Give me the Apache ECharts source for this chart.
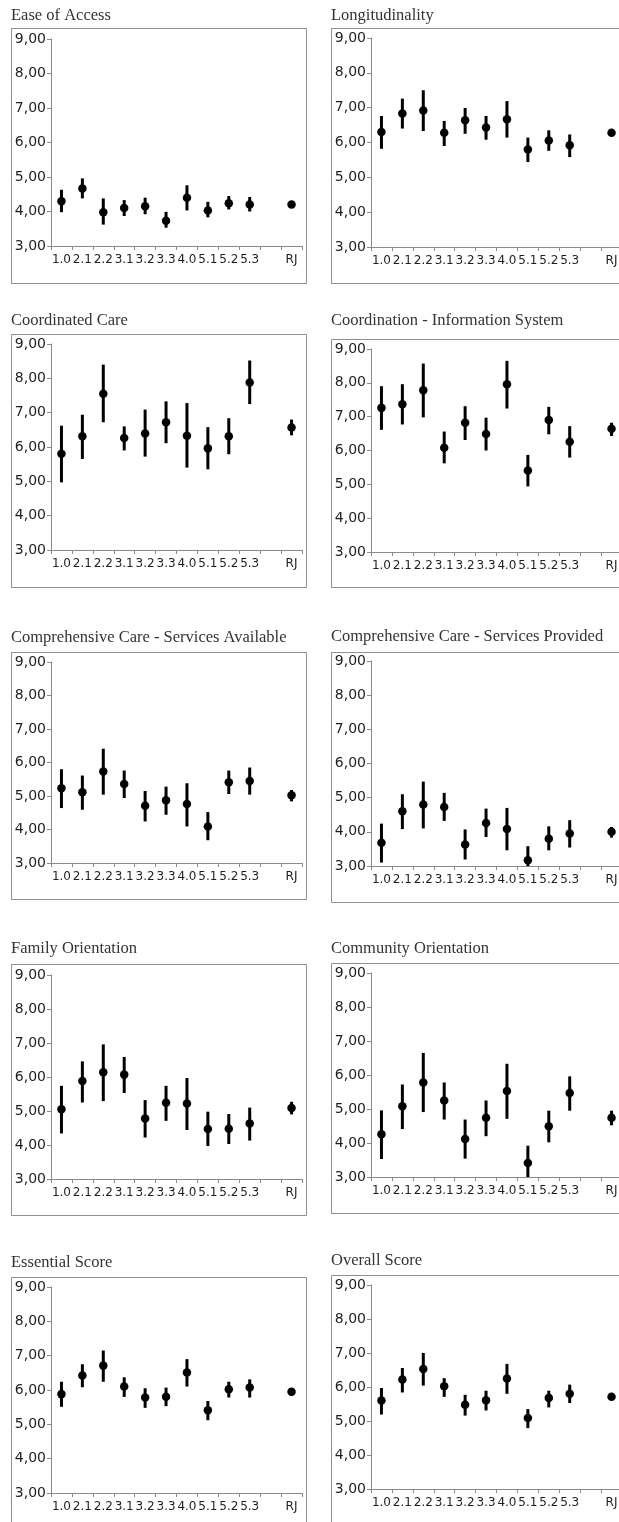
<!DOCTYPE html>
<html>
<head>
<meta charset="utf-8">
<script src="https://cdn.jsdelivr.net/npm/echarts@6/dist/echarts.min.js"></script>
<style>
html,body{margin:0;padding:0;background:#fff;}
#chart{width:619px;height:1522px;}
</style>
</head>
<body>
<div id="chart"></div>
<script>
// ---------- DATA ----------
const categories = ['1.0','2.1','2.2','3.1','3.2','3.3','4.0','5.1','5.2','5.3','','RJ'];
const yMin = 3, yMax = 9, yStep = 1;

const titles = [
  'Ease of Access', 'Longitudinality',
  'Coordinated Care', 'Coordination - Information System',
  'Comprehensive Care - Services Available', 'Comprehensive Care - Services Provided',
  'Family Orientation', 'Community Orientation',
  'Essential Score', 'Overall Score'
];

const easeMean = [4.30, 4.67, 3.98, 4.10, 4.15, 3.73, 4.40, 4.03, 4.24, 4.20, null, 4.20];
const easeLo   = [3.98, 4.38, 3.62, 3.87, 3.92, 3.53, 4.03, 3.83, 4.06, 4.00, null, 4.15];
const easeHi   = [4.63, 4.96, 4.38, 4.33, 4.40, 3.99, 4.76, 4.28, 4.45, 4.42, null, 4.25];

const longMean = [6.30, 6.83, 6.92, 6.28, 6.64, 6.43, 6.67, 5.80, 6.06, 5.92, null, 6.28];
const longLo   = [5.82, 6.40, 6.33, 5.90, 6.25, 6.08, 6.14, 5.44, 5.76, 5.58, null, 6.20];
const longHi   = [6.76, 7.26, 7.50, 6.62, 6.99, 6.76, 7.19, 6.14, 6.35, 6.23, null, 6.36];

const coordMean = [5.80, 6.31, 7.55, 6.26, 6.39, 6.72, 6.33, 5.96, 6.31, 7.88, null, 6.57];
const coordLo   = [4.97, 5.65, 6.72, 5.90, 5.72, 6.11, 5.40, 5.35, 5.79, 7.25, null, 6.34];
const coordHi   = [6.62, 6.94, 8.40, 6.60, 7.09, 7.33, 7.28, 6.58, 6.84, 8.52, null, 6.80];

const infoMean = [7.26, 7.37, 7.78, 6.08, 6.82, 6.49, 7.96, 5.41, 6.90, 6.26, null, 6.64];
const infoLo   = [6.61, 6.77, 6.98, 5.62, 6.31, 6.00, 7.24, 4.94, 6.48, 5.79, null, 6.43];
const infoHi   = [7.90, 7.96, 8.57, 6.56, 7.31, 6.97, 8.65, 5.87, 7.29, 6.72, null, 6.82];

const availMean = [5.23, 5.11, 5.73, 5.36, 4.71, 4.87, 4.76, 4.09, 5.41, 5.45, null, 5.02];
const availLo   = [4.64, 4.59, 5.04, 4.94, 4.24, 4.44, 4.09, 3.68, 5.06, 5.04, null, 4.84];
const availHi   = [5.80, 5.61, 6.41, 5.76, 5.15, 5.28, 5.38, 4.52, 5.76, 5.85, null, 5.18];

const provMean = [3.68, 4.60, 4.80, 4.73, 3.63, 4.26, 4.08, 3.17, 3.80, 3.95, null, 4.00];
const provLo   = [3.10, 4.08, 4.10, 4.32, 3.19, 3.85, 3.46, 2.78, 3.46, 3.54, null, 3.83];
const provHi   = [4.24, 5.10, 5.47, 5.14, 4.07, 4.68, 4.70, 3.58, 4.16, 4.34, null, 4.14];

const famMean = [5.05, 5.88, 6.14, 6.07, 4.78, 5.24, 5.22, 4.47, 4.48, 4.63, null, 5.09];
const famLo   = [4.34, 5.25, 5.29, 5.53, 4.22, 4.71, 4.44, 3.97, 4.03, 4.13, null, 4.90];
const famHi   = [5.74, 6.46, 6.96, 6.59, 5.32, 5.74, 5.97, 4.98, 4.91, 5.10, null, 5.27];

const commMean = [4.26, 5.08, 5.78, 5.25, 4.12, 4.74, 5.53, 3.41, 4.49, 5.47, null, 4.74];
const commLo   = [3.53, 4.41, 4.91, 4.69, 3.54, 4.20, 4.71, 2.90, 4.02, 4.95, null, 4.52];
const commHi   = [4.96, 5.72, 6.65, 5.78, 4.69, 5.25, 6.33, 3.92, 4.95, 5.96, null, 4.95];

const essMean = [5.88, 6.42, 6.71, 6.10, 5.78, 5.80, 6.51, 5.41, 6.02, 6.07, null, 5.95];
const essLo   = [5.51, 6.08, 6.24, 5.80, 5.48, 5.53, 6.10, 5.12, 5.78, 5.78, null, 5.90];
const essHi   = [6.24, 6.75, 7.15, 6.37, 6.05, 6.07, 6.90, 5.68, 6.24, 6.31, null, 6.00];

const allMean = [5.60, 6.22, 6.53, 6.02, 5.48, 5.61, 6.25, 5.09, 5.68, 5.80, null, 5.71];
const allLo   = [5.19, 5.84, 6.04, 5.71, 5.16, 5.31, 5.80, 4.79, 5.40, 5.53, null, 5.66];
const allHi   = [5.97, 6.56, 7.00, 6.26, 5.77, 5.89, 6.68, 5.35, 5.89, 6.07, null, 5.76];

const panelData = [
  [easeMean, easeLo, easeHi], [longMean, longLo, longHi],
  [coordMean, coordLo, coordHi], [infoMean, infoLo, infoHi],
  [availMean, availLo, availHi], [provMean, provLo, provHi],
  [famMean, famLo, famHi], [commMean, commLo, commHi],
  [essMean, essLo, essHi], [allMean, allLo, allHi]
];

// ---------- LAYOUT ----------
// [gridLeft, gridTop, gridHeight, boxLeft, boxTop, boxBottom, titleTop]
const layout = [
  [51, 39, 207, 11, 28, 283, 7],    [371, 38, 209, 331, 28, 283, 7],
  [51, 344, 206, 11, 334, 587, 312],[371, 349, 203, 331, 339, 587, 312],
  [51, 662, 201, 11, 652, 899, 629],[371, 661, 205, 331, 652, 902, 628],
  [51, 975, 204, 11, 964, 1215, 940],[371, 973, 204, 331, 963, 1213, 940],
  [51, 1287, 206, 11, 1277, 1530, 1254],[371, 1285, 204, 331, 1275, 1530, 1252]
];
const gridWidth = 251;
const boxWidth = 295;
const axisColor = '#8a8a8a';
const textColor = '#1e1e1e';

const grids = [], xAxes = [], yAxes = [], series = [], titleOpts = [], graphics = [];

layout.forEach((L, i) => {
  const [gl, gt, gh, bl, bt, bb, tt] = L;
  grids.push({left: gl, top: gt, width: gridWidth, height: gh, outerBoundsMode: 'none', containLabel: false});
  xAxes.push({
    type: 'category', gridIndex: i, data: categories, boundaryGap: true,
    axisLine: {show: true, lineStyle: {color: axisColor, width: 1}},
    axisTick: {show: true, length: 4, interval: 0, lineStyle: {color: axisColor}},
    axisLabel: {interval: 0, margin: 8, color: textColor, fontFamily: 'DejaVu Sans', fontSize: 12},
    splitLine: {show: false}
  });
  yAxes.push({
    type: 'value', gridIndex: i, min: yMin, max: yMax, interval: yStep,
    axisLine: {show: true, lineStyle: {color: axisColor, width: 1}},
    axisTick: {show: true, length: 4, lineStyle: {color: axisColor}},
    axisLabel: {margin: 5, color: textColor, fontFamily: 'DejaVu Sans', fontSize: 14,
      formatter: v => v.toFixed(2).replace('.', ',')},
    splitLine: {show: false}
  });
  const [mean, lo, hi] = panelData[i];
  const barData = [], ptData = [];
  categories.forEach((c, k) => {
    if (mean[k] != null) {
      barData.push([k, lo[k], hi[k]]);
      ptData.push([k, mean[k]]);
    }
  });
  series.push({
    type: 'custom', xAxisIndex: i, yAxisIndex: i, clip: true, silent: true,
    data: barData,
    encode: {x: 0, y: [1, 2]},
    renderItem: (params, api) => {
      const x = api.value(0);
      const p1 = api.coord([x, api.value(1)]);
      const p2 = api.coord([x, api.value(2)]);
      return {type: 'line', shape: {x1: p1[0], y1: p1[1], x2: p2[0], y2: p2[1]},
        style: {stroke: '#000', lineWidth: 3}};
    },
    z: 2
  });
  series.push({
    type: 'scatter', xAxisIndex: i, yAxisIndex: i, data: ptData,
    symbol: 'circle', symbolSize: 8.5, itemStyle: {color: '#000', opacity: 1}, silent: true, z: 3
  });
  titleOpts.push({
    text: titles[i], left: bl, top: tt, padding: 0,
    textStyle: {fontFamily: 'Liberation Serif', fontSize: 16.5, fontWeight: 'normal', color: '#333'}
  });
  graphics.push({
    type: 'rect', silent: true,
    shape: {x: bl + 0.5, y: bt + 0.5, width: boxWidth, height: bb - bt},
    style: {fill: null, stroke: '#8f8f8f', lineWidth: 1}
  });
});

const chart = echarts.init(document.getElementById('chart'), null, {renderer: 'canvas'});
chart.setOption({
  animation: false,
  backgroundColor: '#fff',
  title: titleOpts,
  grid: grids,
  xAxis: xAxes,
  yAxis: yAxes,
  series: series,
  graphic: graphics
});
</script>
</body>
</html>
